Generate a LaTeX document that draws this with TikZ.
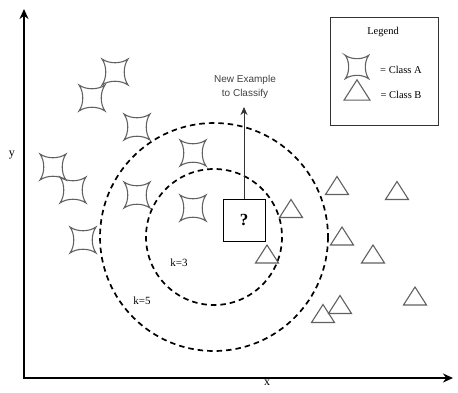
\documentclass[tikz,border=0pt]{standalone}
\usepackage{fontspec}
\setmainfont{Liberation Serif}
\newfontfamily\labelsans{Liberation Sans}
\usetikzlibrary{arrows.meta}
\begin{document}
\begin{tikzpicture}[x=1pt,y=-1pt,
  mk/.style={draw=black!62, line width=1.1pt, line join=miter},
  ring/.style={draw=black, line width=1.7pt, dash pattern=on 5.5pt off 4pt},
  axis/.style={draw=black, line width=2.2pt, -{Stealth[length=10pt,width=9pt]}},
  lbl/.style={font=\fontsize{10.5}{12}\selectfont, inner sep=0pt},
  pics/starA/.style={code={
    \draw[mk] (-13,-13) .. controls (-6,-8) and (6,-8) .. (13,-13)
      .. controls (8,-6) and (8,6) .. (13,13)
      .. controls (6,8) and (-6,8) .. (-13,13)
      .. controls (-8,6) and (-8,-6) .. cycle;}},
  pics/triB/.style={code={
    \draw[mk] (0,-9) -- (11.5,9) -- (-11.5,9) -- cycle;}}
]
\useasboundingbox (0,0) rectangle (458,392);

% axes
\coordinate (O) at (24,378);
\coordinate (ytip) at (24,9);
\coordinate (xtip) at (453,378);
\draw[axis] ([xshift=-1.1pt]O) -- (xtip);
\draw[axis] ([yshift=1.1pt]O) -- (ytip);
\node[font=\fontsize{12}{14}\selectfont, inner sep=0pt] (ylab) at (12,155) {y};
\node[font=\fontsize{12}{14}\selectfont, inner sep=0pt, anchor=north] (xlab) at (267,380) {x};

% neighbourhood circles
\coordinate (C) at (214,237);
\draw[ring] (C) circle[radius=114];
\draw[ring] (C) circle[radius=68];
\node[lbl, font=\fontsize{11}{13}\selectfont] (k3) at (179,263) {k=3};
\node[lbl, font=\fontsize{11}{13}\selectfont] (k5) at (142,301) {k=5};

% class A
\foreach \p in {(115,72),(92,98),(137,127),(53,167),(73,190),(137,195),(193,153),(193,208),(83,240)}
  \pic at \p {starA};

% class B
\foreach \p in {(337,185.5),(397,190.5),(291,208.5),(342,236),(267,254),(373,254),(415,296),(340,304.5),(323,313.5)}
  \pic at \p {triB};

% query point
\node[draw=black, line width=0.9pt, minimum width=42pt, minimum height=42pt, fill=white,
      font=\fontsize{17}{19}\selectfont\bfseries] (q) at (244,220) {?};
\coordinate (qtip) at (244,107);
\draw[draw=black!80, line width=0.9pt, -{Stealth[length=8pt,width=7pt]}] (q.north) -- (qtip);
\node[font=\labelsans\fontsize{10}{14}\selectfont, text=black!75, align=center] (qlab) at (245,87)
  {New Example\\to Classify};

% legend
\node[draw=black!80, line width=1pt, minimum width=108pt, minimum height=108pt, inner sep=0pt] (leg) at (384,71) {};
\node[lbl] (legt) at (383,32) {Legend};
\pic[scale=0.9] at (357,67) {starA};
\node[lbl] (la) at (401,70) {= Class A};
\pic[scale=1.13] at (357,90) {triB};
\node[lbl] (lb) at (401,95) {= Class B};
\end{tikzpicture}
\end{document}
